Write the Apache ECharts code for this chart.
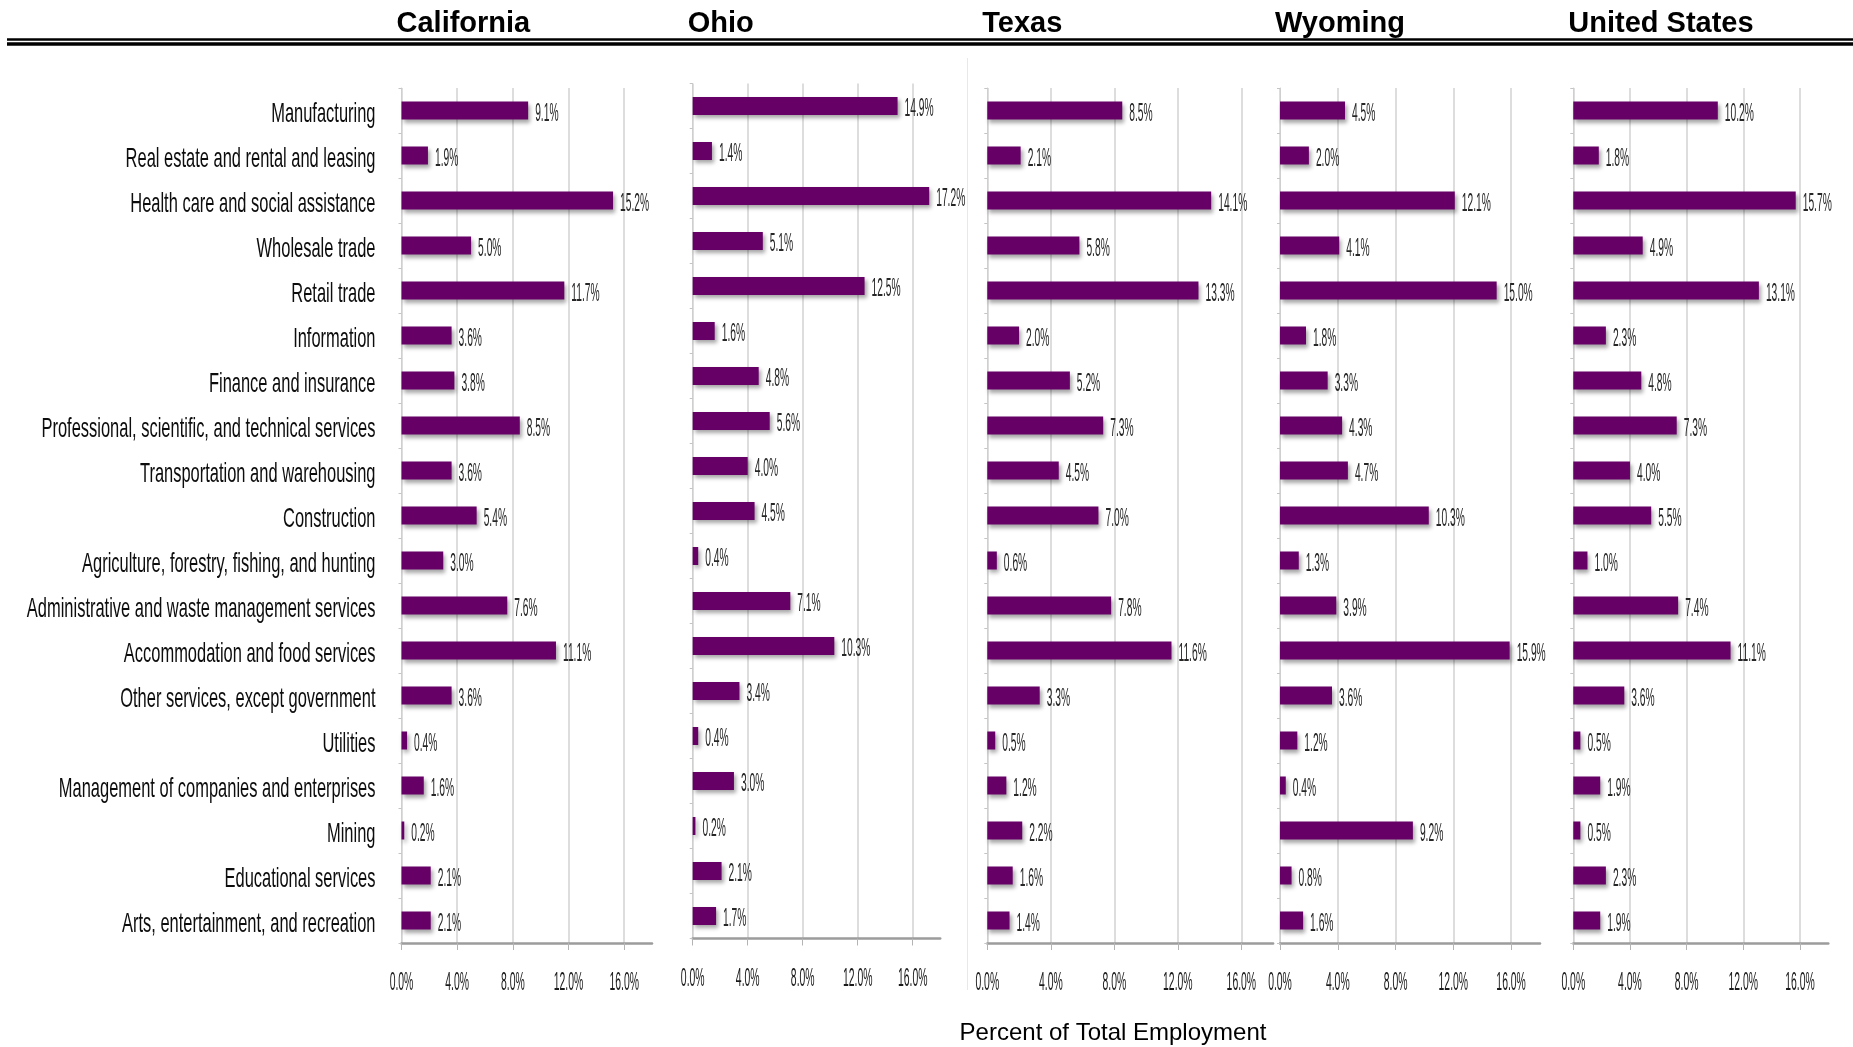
<!DOCTYPE html>
<html>
<head>
<meta charset="utf-8">
<title>Percent of Total Employment by Industry</title>
<script src="https://cdn.jsdelivr.net/npm/echarts@6/dist/echarts.min.js"></script>
<style>
  html, body { margin: 0; padding: 0; background: #ffffff; }
  #chart { width: 1853px; height: 1047px; }
</style>
</head>
<body>
<div id="chart"></div>
<script>
// ---- data -------------------------------------------------------------
const categories = [
  'Manufacturing',
  'Real estate and rental and leasing',
  'Health care and social assistance',
  'Wholesale trade',
  'Retail trade',
  'Information',
  'Finance and insurance',
  'Professional, scientific, and technical services',
  'Transportation and warehousing',
  'Construction',
  'Agriculture, forestry, fishing, and hunting',
  'Administrative and waste management services',
  'Accommodation and food services',
  'Other services, except government',
  'Utilities',
  'Management of companies and enterprises',
  'Mining',
  'Educational services',
  'Arts, entertainment, and recreation'
];

const regions = ['California', 'Ohio', 'Texas', 'Wyoming', 'United States'];

const california   = [9.1, 1.9, 15.2, 5.0, 11.7, 3.6, 3.8, 8.5, 3.6, 5.4, 3.0, 7.6, 11.1, 3.6, 0.4, 1.6, 0.2, 2.1, 2.1];
const ohio         = [14.9, 1.4, 17.2, 5.1, 12.5, 1.6, 4.8, 5.6, 4.0, 4.5, 0.4, 7.1, 10.3, 3.4, 0.4, 3.0, 0.2, 2.1, 1.7];
const texas        = [8.5, 2.1, 14.1, 5.8, 13.3, 2.0, 5.2, 7.3, 4.5, 7.0, 0.6, 7.8, 11.6, 3.3, 0.5, 1.2, 2.2, 1.6, 1.4];
const wyoming      = [4.5, 2.0, 12.1, 4.1, 15.0, 1.8, 3.3, 4.3, 4.7, 10.3, 1.3, 3.9, 15.9, 3.6, 1.2, 0.4, 9.2, 0.8, 1.6];
const unitedStates = [10.2, 1.8, 15.7, 4.9, 13.1, 2.3, 4.8, 7.3, 4.0, 5.5, 1.0, 7.4, 11.1, 3.6, 0.5, 1.9, 0.5, 2.3, 1.9];

const tickValues = [0, 4, 8, 12, 16];
const tickLabels = ['0.0%', '4.0%', '8.0%', '12.0%', '16.0%'];
const axisTitle = 'Percent of Total Employment';

const regionValues = [california, ohio, texas, wyoming, unitedStates];

// ---- layout & style ---------------------------------------------------
const panels = [
  { left: 401.5,  width: 250.5, top: 88 },
  { left: 692.7,  width: 247.5, top: 83.5 },
  { left: 987.3,  width: 285.8, top: 88 },
  { left: 1280,   width: 260,   top: 88 },
  { left: 1573.3, width: 255,   top: 88 }
];
const PANEL_HEIGHT = 855;
const AXIS_MAX = 18;
const BAR_COLOR = '#660066';
const FONT = '"Liberation Sans", Arial, sans-serif';

// Horizontally compressed text element (scaled about its anchor point)
function squeezedText(x, y, text, o) {
  return {
    type: 'text',
    x: x, y: y,
    scaleX: o.scaleX, scaleY: 1,
    originX: 0, originY: 0,
    silent: true,
    style: {
      x: 0, y: 0,
      text: text,
      align: o.align,
      verticalAlign: 'middle',
      fill: o.color,
      fontSize: o.size,
      fontFamily: FONT,
      fontWeight: o.weight || 'normal'
    }
  };
}

const grid = [], xAxis = [], yAxis = [], series = [];

panels.forEach((p, i) => {
  grid.push({ left: p.left, top: p.top, width: p.width, height: PANEL_HEIGHT, containLabel: false });

  xAxis.push({
    type: 'value', gridIndex: i, min: 0, max: AXIS_MAX, interval: 4,
    axisLine: { show: true, lineStyle: { color: '#9c9c9c', width: 2.5 } },
    axisTick: { show: true, customValues: tickValues, length: 7, lineStyle: { color: '#b4b4b4', width: 1 } },
    axisLabel: { show: false },
    splitLine: { show: true, lineStyle: { color: '#d2d2d2', width: 1.5 } }
  });

  yAxis.push({
    type: 'category', gridIndex: i, data: categories, inverse: true,
    axisLine: { show: true, lineStyle: { color: '#cfcfcf', width: 1 } },
    axisTick: { show: true, length: 3, lineStyle: { color: '#c4c4c4' } },
    axisLabel: { show: false },
    splitLine: { show: false }
  });

  const vals = regionValues[i];

  // bars
  series.push({
    type: 'bar', name: regions[i], xAxisIndex: i, yAxisIndex: i,
    data: vals, barWidth: 18, clip: false, silent: true,
    itemStyle: {
      color: BAR_COLOR,
      shadowColor: 'rgba(0,0,0,0.35)', shadowBlur: 4, shadowOffsetX: 2, shadowOffsetY: 3
    }
  });

  // value labels at the bar ends
  series.push({
    type: 'custom', xAxisIndex: i, yAxisIndex: i, clip: false, silent: true, z: 5,
    data: vals.map((v, j) => [v, j]),
    encode: { x: 0, y: 1 },
    renderItem: (params, api) => {
      const v = vals[params.dataIndex];
      const pt = api.coord([v, params.dataIndex]);
      return squeezedText(pt[0] + 7, pt[1] + 3.5, v.toFixed(1) + '%',
        { align: 'left', size: 25, scaleX: 0.41, color: '#262626' });
    }
  });

  // tick labels under each panel
  series.push({
    type: 'custom', xAxisIndex: i, yAxisIndex: i, clip: false, silent: true, z: 5,
    data: tickValues.map(t => [t, 0]),
    encode: { x: 0, y: 1 },
    renderItem: (params, api) => {
      const pt = api.coord([tickValues[params.dataIndex], 0]);
      const cs = params.coordSys;
      return squeezedText(pt[0], cs.y + cs.height + 40, tickLabels[params.dataIndex],
        { align: 'center', size: 26, scaleX: 0.4, color: '#1a1a1a' });
    }
  });
});

// industry names to the left of the first panel
series.push({
  type: 'custom', xAxisIndex: 0, yAxisIndex: 0, clip: false, silent: true, z: 5,
  data: categories.map((c, j) => [0, j]),
  encode: { x: 0, y: 1 },
  renderItem: (params, api) => {
    const pt = api.coord([0, params.dataIndex]);
    return squeezedText(pt[0] - 26, pt[1] + 3.5, categories[params.dataIndex],
      { align: 'right', size: 28, scaleX: 0.588, color: '#0d0d0d' });
  }
});

const option = {
  animation: false,
  backgroundColor: '#ffffff',
  title: regions.map((r, i) => ({
    text: r,
    left: panels[i].left - 5,
    top: 9,
    padding: 0,
    textStyle: { fontFamily: FONT, fontWeight: 'bold', fontSize: 29, color: '#000000' }
  })),
  grid: grid,
  xAxis: xAxis,
  yAxis: yAxis,
  series: series,
  graphic: [
    // double rule under the panel headings
    { type: 'line', silent: true, shape: { x1: 7, y1: 39.5, x2: 1853, y2: 39.5 }, style: { stroke: '#000', lineWidth: 2.5 } },
    { type: 'line', silent: true, shape: { x1: 7, y1: 44, x2: 1853, y2: 44 }, style: { stroke: '#000', lineWidth: 3.5 } },
    // faint divider left of Texas
    { type: 'line', silent: true, shape: { x1: 967.5, y1: 58, x2: 967.5, y2: 990 }, style: { stroke: '#e8e8e8', lineWidth: 1 } },
    // shared axis title
    { type: 'text', silent: true, x: 1113, y: 1033,
      style: { text: axisTitle, align: 'center', verticalAlign: 'middle', fill: '#000', fontSize: 24, fontFamily: FONT } }
  ]
};

const chart = echarts.init(document.getElementById('chart'), null, { renderer: 'canvas' });
chart.setOption(option);
</script>
</body>
</html>
